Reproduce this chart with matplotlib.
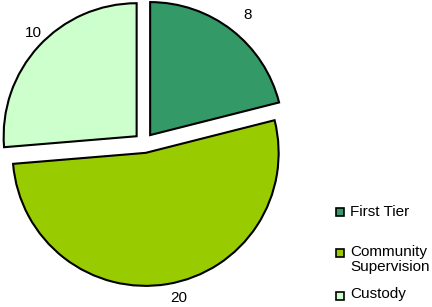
import matplotlib
matplotlib.use("Agg")
import matplotlib.pyplot as plt
from matplotlib.patches import Rectangle

categories = ["First Tier", "Community\nSupervision", "Custody"]
values = [8, 20, 10]
colors = ["#339966", "#99cc00", "#ccffcc"]

plt.rcParams['font.family'] = ['Liberation Sans', 'DejaVu Sans']

H = 307
fig = plt.figure(figsize=(4.32, 3.07), dpi=100)
ax = fig.add_axes([0, 0, 1, 1])

wedges, texts = ax.pie(values, colors=colors, startangle=90, counterclock=False,
                       center=(144, H - 143), radius=133,
                       explode=[10, 10, 10],
                       labels=[str(v) for v in values], labeldistance=1.145,
                       wedgeprops=dict(edgecolor='black', linewidth=1.5),
                       textprops=dict(fontsize=11, color='black'), frame=True)
# bottom label sits a bit closer to the pie in the reference
tx, ty = texts[1].get_position()
texts[1].set_position((tx, H - 298))

ax.set_xlim(0, 432)
ax.set_ylim(0, H)
ax.set_aspect('equal')
ax.axis('off')

# legend (manual layout)
sq_y = [212, 253, 296]
txt_y = [212, 259.5, 294]
for c, lab, sy, ty in zip(colors, categories, sq_y, txt_y):
    ax.add_patch(Rectangle((336, H - sy - 4), 8, 8, facecolor=c, edgecolor='black',
                           linewidth=1.2, clip_on=False))
    ax.text(350, H - ty, lab, ha='left', va='center', fontsize=11,
            linespacing=1.1, color='black')

fig.savefig("out.png", dpi=100)
